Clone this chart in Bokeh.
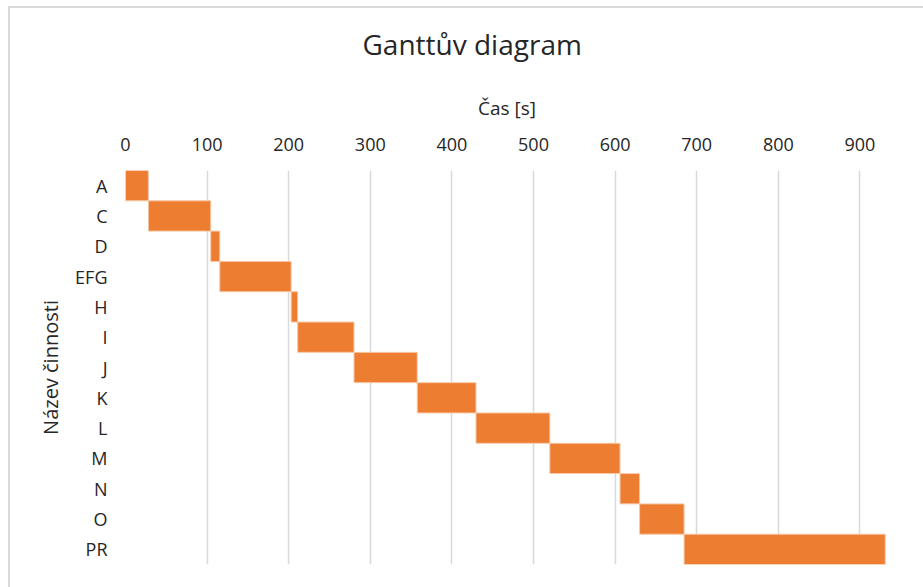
from bokeh.plotting import figure
from bokeh.models import FactorRange, Range1d, FixedTicker, ColumnDataSource
from bokeh.layouts import column
from bokeh.embed import file_html
from bokeh.resources import INLINE

tasks = ["A", "C", "D", "EFG", "H", "I", "J", "K", "L", "M", "N", "O", "PR"]
start = [0, 28, 104.5, 115.5, 203, 211, 280, 357.5, 429.5, 520, 606, 630, 684.5]
end = [28, 104.5, 115.5, 203, 211, 280, 357.5, 429.5, 520, 606, 630, 684.5, 931]
x_ticks = [0, 100, 200, 300, 400, 500, 600, 700, 800, 900]
chart_title = "Ganttův diagram"

FONT = "Open Sans"
TXT = "#262626"

TITLE_H = 80
TITLE_PAD = 14

# title strip
t = figure(width=913, height=TITLE_H - TITLE_PAD, output_backend="svg", toolbar_location=None,
           title=chart_title, x_range=Range1d(0, 1), y_range=Range1d(0, 1),
           min_border_left=115, min_border_right=35, min_border_top=0, min_border_bottom=0,
           margin=(TITLE_PAD, 0, 0, 0))
t.axis.visible = False
t.grid.visible = False
t.outline_line_color = None
t.title.align = "left"
t.title.offset = 237
t.title.text_font = FONT
t.title.text_font_size = "28px"
t.title.text_font_style = "normal"
t.title.text_color = TXT
t.title.standoff = 0

src = ColumnDataSource(dict(task=tasks, start=start, end=end))

p = figure(width=913, height=579 - TITLE_H, output_backend="svg", toolbar_location=None,
           y_range=FactorRange(*reversed(tasks)), x_range=Range1d(0, 935),
           x_axis_location="above",
           min_border_left=115, min_border_right=35, min_border_top=162 - TITLE_H,
           min_border_bottom=23)

p.hbar(y="task", left="start", right="end", height=1.0, source=src,
       fill_color="#ED7D31", line_color="#F8C9A8", line_width=1)

xa = p.xaxis[0]
xa.ticker = FixedTicker(ticks=x_ticks)
xa.axis_label = "Čas [s]"
xa.axis_label_text_font = FONT
xa.axis_label_text_font_size = "19px"
xa.axis_label_text_font_style = "normal"
xa.axis_label_text_color = TXT
xa.axis_label_standoff = 14
xa.major_label_text_font = FONT
xa.major_label_text_font_size = "18px"
xa.major_label_text_color = TXT
xa.major_label_standoff = 20
xa.axis_line_color = None
xa.major_tick_line_color = None
xa.minor_tick_line_color = None
xa.major_tick_out = 0
xa.major_tick_in = 0

ya = p.yaxis[0]
ya.axis_label = "Název činnosti"
ya.axis_label_text_font = FONT
ya.axis_label_text_font_size = "20px"
ya.axis_label_text_font_style = "normal"
ya.axis_label_text_color = TXT
ya.axis_label_standoff = 8
ya.major_label_text_font = FONT
ya.major_label_text_font_size = "18px"
ya.major_label_text_color = TXT
ya.major_label_standoff = 18
ya.axis_line_color = None
ya.major_tick_line_color = None
ya.minor_tick_line_color = None
ya.major_tick_out = 0
ya.major_tick_in = 0

p.xgrid.grid_line_color = "#D9D9D9"
p.xgrid.grid_line_width = 1.5
p.ygrid.grid_line_color = None
p.outline_line_color = None

lay = column(t, p, margin=(6, 0, 0, 8), spacing=0,
             styles={"border-left": "2px solid #D9D9D9", "border-top": "2px solid #D9D9D9"})

open("out.html", "w").write(file_html(lay, INLINE))
